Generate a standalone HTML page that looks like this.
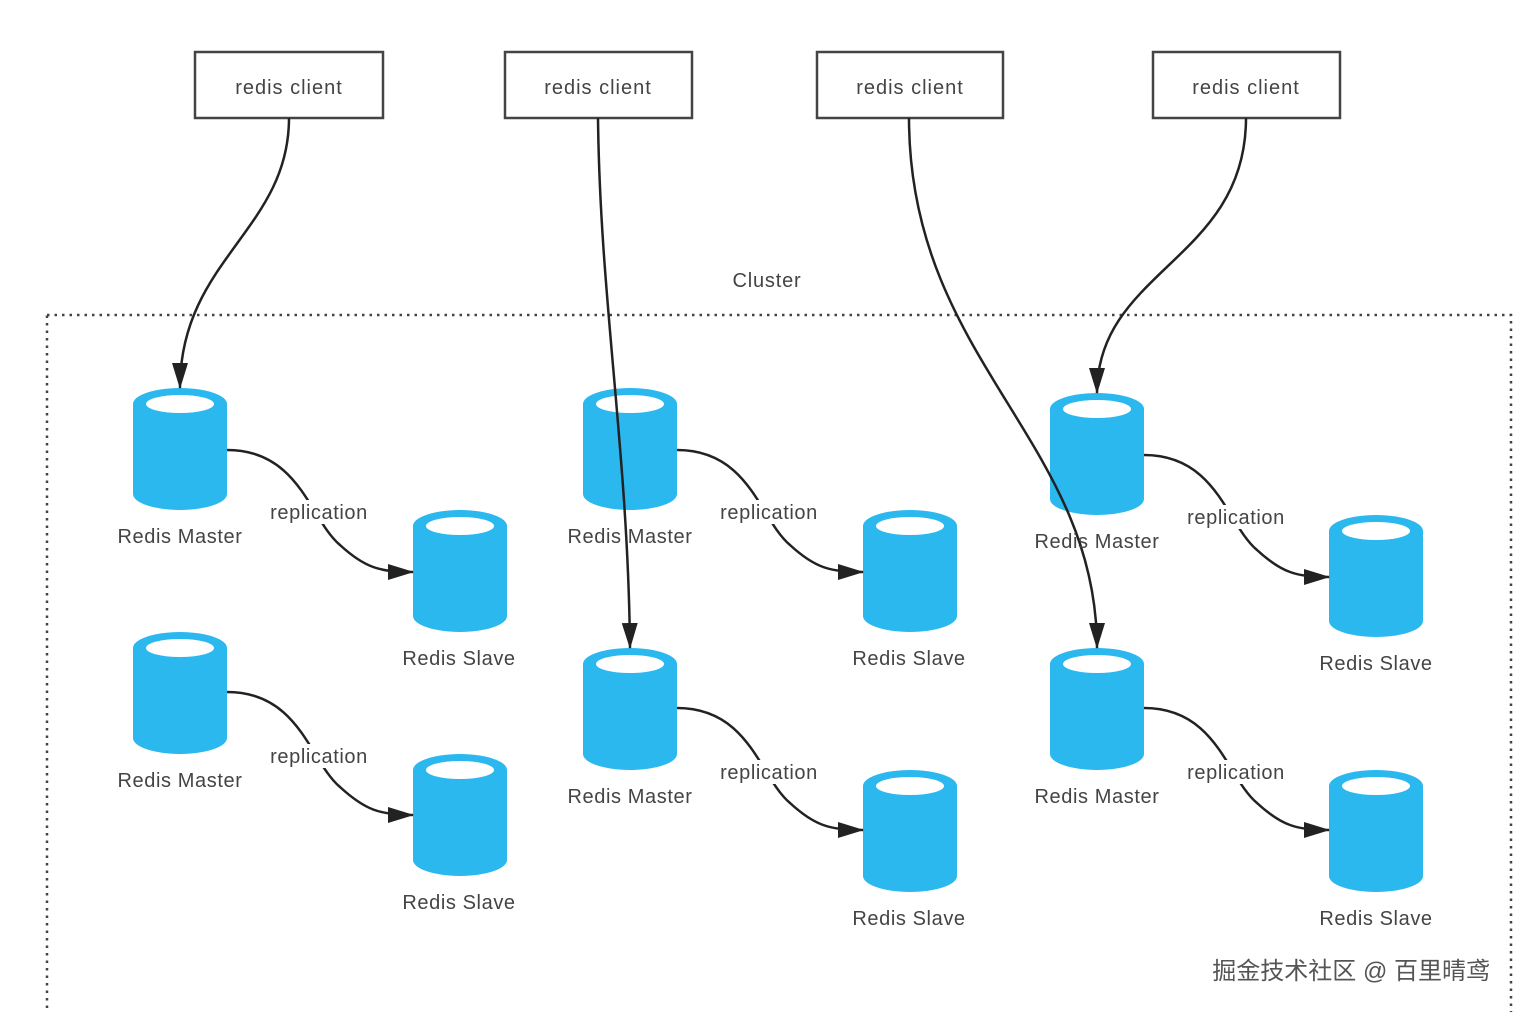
<!DOCTYPE html>
<html><head><meta charset="utf-8"><style>
html,body{margin:0;padding:0;background:#fff;}
svg{display:block;font-family:"Liberation Sans","Noto Sans CJK SC",sans-serif;}
</style></head><body>
<svg width="1518" height="1012" viewBox="0 0 1518 1012" xmlns="http://www.w3.org/2000/svg">
<defs>
<marker id="ah" markerWidth="26" markerHeight="20" refX="25" refY="10" orient="auto" markerUnits="userSpaceOnUse">
<path d="M0,2 L26,10 L0,18 z" fill="#222"/>
</marker>
<g id="cyl">
<path d="M0,16 A47,16 0 0 1 94,16 V106 A47,16 0 0 1 0,106 Z" fill="#2bb8ef"/>
<ellipse cx="47" cy="16" rx="34" ry="9" fill="#fff"/>
</g>
</defs>
<rect x="47" y="315" width="1464" height="720" fill="none" stroke="#444" stroke-width="2.5" stroke-dasharray="2.5,5"/>
<text x="767" y="287" font-size="20" letter-spacing="0.8" fill="#444" text-anchor="middle">Cluster</text>
<g fill="#fff" stroke="#444" stroke-width="2.5">
<rect x="195" y="52" width="188" height="66"/>
<rect x="505" y="52" width="187" height="66"/>
<rect x="817" y="52" width="186" height="66"/>
<rect x="1153" y="52" width="187" height="66"/>
</g>
<g font-size="20" letter-spacing="1" fill="#444" text-anchor="middle">
<text x="289" y="94">redis client</text>
<text x="598" y="94">redis client</text>
<text x="910" y="94">redis client</text>
<text x="1246" y="94">redis client</text>
</g>
<use href="#cyl" x="133" y="388"/><use href="#cyl" x="583" y="388"/><use href="#cyl" x="1050" y="393"/>
<use href="#cyl" x="133" y="632"/><use href="#cyl" x="583" y="648"/><use href="#cyl" x="1050" y="648"/>
<use href="#cyl" x="413" y="510"/><use href="#cyl" x="863" y="510"/><use href="#cyl" x="1329" y="515"/>
<use href="#cyl" x="413" y="754"/><use href="#cyl" x="863" y="770"/><use href="#cyl" x="1329" y="770"/>
<g fill="none" stroke="#222" stroke-width="2.5" marker-end="url(#ah)">
<path d="M289,118 C289,230 180,260 180,388"/>
<path d="M598,118 C600,300 628,450 630,648"/>
<path d="M909,118 C909,360 1097,440 1097,648"/>
<path d="M1246,118 C1246,260 1097,270 1097,393"/>
<path d="M227,450 C300,450 310,520 340,545 C365,568 380,572 413,572"/>
<path d="M677,450 C750,450 760,520 790,545 C815,568 830,572 863,572"/>
<path d="M1144,455 C1217,455 1227,525 1257,550 C1282,573 1297,577 1329,577"/>
<path d="M227,692 C300,692 310,762 340,787 C365,810 380,815 413,815"/>
<path d="M677,708 C750,708 760,778 790,803 C815,826 830,830 863,830"/>
<path d="M1144,708 C1217,708 1227,778 1257,803 C1282,826 1297,830 1329,830"/>
</g>
<g font-size="20" letter-spacing="0.6" fill="#444" text-anchor="middle">
<g fill="#fff" stroke="none">
<rect x="266" y="500" width="106" height="24"/><rect x="716" y="500" width="106" height="24"/><rect x="1183" y="505" width="106" height="24"/>
<rect x="266" y="744" width="106" height="24"/><rect x="716" y="760" width="106" height="24"/><rect x="1183" y="760" width="106" height="24"/>
</g>
<text x="319" y="519">replication</text><text x="769" y="519">replication</text><text x="1236" y="524">replication</text>
<text x="319" y="763">replication</text><text x="769" y="779">replication</text><text x="1236" y="779">replication</text>
<text x="180" y="543">Redis Master</text><text x="630" y="543">Redis Master</text><text x="1097" y="548">Redis Master</text>
<text x="180" y="787">Redis Master</text><text x="630" y="803">Redis Master</text><text x="1097" y="803">Redis Master</text>
<text x="459" y="665">Redis Slave</text><text x="909" y="665">Redis Slave</text><text x="1376" y="670">Redis Slave</text>
<text x="459" y="909">Redis Slave</text><text x="909" y="925">Redis Slave</text><text x="1376" y="925">Redis Slave</text>
</g>
<text x="1490" y="979" font-size="24" fill="#555" text-anchor="end">掘金技术社区 @ 百里晴鸢</text>
</svg>
</body></html>
